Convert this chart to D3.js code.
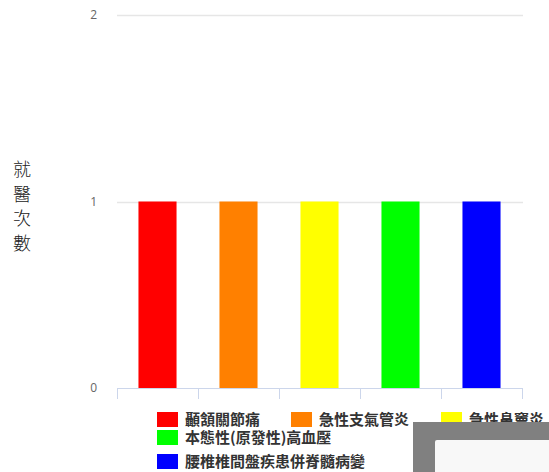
<!DOCTYPE html>
<html>
<head>
<meta charset="utf-8">
<script src="https://cdn.jsdelivr.net/npm/d3@7"></script>
<style>
  body { margin: 0; background: #fff; }
  svg { display: block; font-family: "Noto Sans CJK TC", "Noto Sans", sans-serif; }
</style>
</head>
<body>
<div id="chart"></div>
<script>
var categories = ['顳頷關節痛', '急性支氣管炎', '急性鼻竇炎', '本態性(原發性)高血壓', '腰椎椎間盤疾患併脊髓病變'];
var visits = [1, 1, 1, 1, 1];
var barColors = ['#ff0000', '#ff8000', '#ffff00', '#00ff00', '#0000ff'];
var yTicks = [0, 1, 2];
var yTitle = '就醫次數';

var width = 549, height = 472;
var plot = {left: 117, right: 522, top: 15, bottom: 388};

var svg = d3.select('#chart').append('svg')
  .attr('width', width)
  .attr('height', height);

var x = d3.scaleBand()
  .domain(categories)
  .range([plot.left, plot.right])
  .paddingInner(0.53)
  .paddingOuter(0.265);

var xTicks = d3.scaleBand().domain(categories).range([plot.left, plot.right]);

var y = d3.scaleLinear()
  .domain([0, 2])
  .range([plot.bottom, plot.top]);

// gridlines
svg.append('g')
  .selectAll('line')
  .data(yTicks.filter(function(d) { return d > 0; }))
  .enter().append('line')
    .attr('x1', plot.left)
    .attr('x2', plot.right + 1)
    .attr('y1', function(d) { return Math.round(y(d)) + 0.5; })
    .attr('y2', function(d) { return Math.round(y(d)) + 0.5; })
    .attr('stroke', '#e6e6e6')
    .attr('stroke-width', 1.5);

// y labels
svg.append('g')
  .selectAll('text')
  .data(yTicks)
  .enter().append('text')
    .attr('x', 97)
    .attr('y', function(d) { return y(d) + 4; })
    .attr('text-anchor', 'end')
    .attr('fill', '#666')
    .style('font-family', '"Open Sans", "DejaVu Sans", sans-serif')
    .style('font-size', '12px')
    .text(function(d) { return d; });

// y title, stacked characters
svg.append('g')
  .selectAll('text')
  .data(yTitle.split(''))
  .enter().append('text')
    .attr('x', 22)
    .attr('y', function(d, i) { return 176 + i * 24.5; })
    .attr('text-anchor', 'middle')
    .attr('fill', '#222')
    .style('font-size', '18px')
    .style('font-weight', '300')
    .text(function(d) { return d; });

// bars
svg.append('g')
  .selectAll('rect')
  .data(visits)
  .enter().append('rect')
    .attr('x', function(d, i) { return x(categories[i]); })
    .attr('y', function(d) { return y(d); })
    .attr('width', x.bandwidth())
    .attr('height', function(d) { return y(0) - y(d); })
    .attr('fill', function(d, i) { return barColors[i]; });

// x axis line and ticks
var axis = svg.append('g');
axis.append('line')
  .attr('x1', plot.left)
  .attr('x2', plot.right + 1)
  .attr('y1', plot.bottom + 0.5)
  .attr('y2', plot.bottom + 0.5)
  .attr('stroke', '#ccd6eb');
var tickPos = categories.map(function(c) { return xTicks(c); }).concat([plot.right]);
axis.selectAll('.tick')
  .data(tickPos)
  .enter().append('line')
    .attr('x1', function(d) { return Math.round(d) + 0.5; })
    .attr('x2', function(d) { return Math.round(d) + 0.5; })
    .attr('y1', plot.bottom)
    .attr('y2', plot.bottom + 11)
    .attr('stroke', '#ccd6eb');

// legend
var legendPos = [
  {x: 157, y: 412}, {x: 291, y: 412}, {x: 441, y: 412},
  {x: 157, y: 430}, {x: 157, y: 454}
];
var legend = svg.append('g')
  .selectAll('g')
  .data(categories)
  .enter().append('g')
    .attr('transform', function(d, i) { return 'translate(' + legendPos[i].x + ',' + legendPos[i].y + ')'; });
legend.append('rect')
  .attr('width', 21)
  .attr('height', 15)
  .attr('fill', function(d, i) { return barColors[i]; });
legend.append('text')
  .attr('x', 28)
  .attr('y', 13)
  .attr('fill', '#333')
  .style('font-size', '15px')
  .style('font-weight', 'bold')
  .text(function(d) { return d; });

// overlay dialog in the corner
svg.append('rect')
  .attr('x', 413)
  .attr('y', 422)
  .attr('width', width - 413)
  .attr('height', height - 422)
  .attr('fill', '#808080');
svg.append('rect')
  .attr('x', 435)
  .attr('y', 440)
  .attr('width', width - 435 + 5)
  .attr('height', height - 440 + 5)
  .attr('rx', 2)
  .attr('fill', '#f8f8f8');
</script>
</body>
</html>
